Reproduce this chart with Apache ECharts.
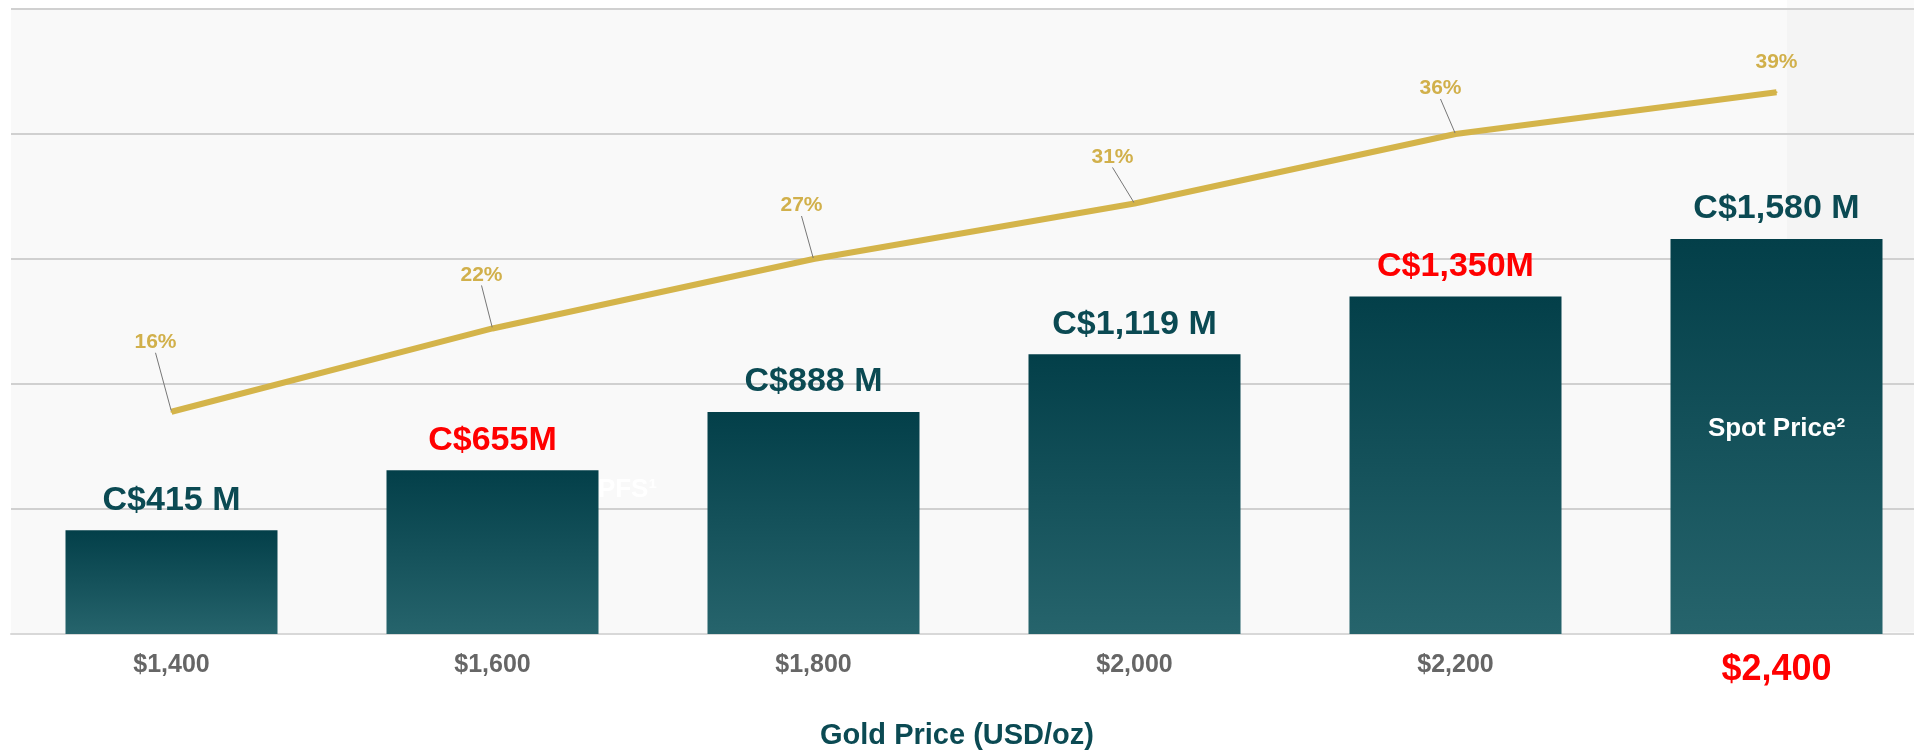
<!DOCTYPE html>
<html>
<head>
<meta charset="utf-8">
<script src="https://cdn.jsdelivr.net/npm/echarts@6/dist/echarts.min.js"></script>
<style>
  html, body { margin: 0; padding: 0; background: #fff; }
  #chart { width: 1914px; height: 751px; }
</style>
</head>
<body>
<div id="chart"></div>
<script>
// gold price scenarios (USD/oz)
const goldPrices = ['$1,400', '$1,600', '$1,800', '$2,000', '$2,200', '$2,400']
// after-tax NPV, C$ M
const npvValues = [415, 655, 888, 1119, 1350, 1580]
const npvLabels = ['C$415 M', 'C$655M', 'C$888 M', 'C$1,119 M', 'C$1,350M', 'C$1,580 M']
// IRR, %
const irrValues = [16, 22, 27, 31, 36, 39]
// notes written on the bars
const barNotes = ['', 'PFS¹', '', '', '', 'Spot Price²']
// which value labels are red
const redLabels = [1, 4]
const spotIndex = 5

const FONT = '"Liberation Sans", Arial, Helvetica, sans-serif'
const TEAL = '#0b4a53'
const GOLD = '#d4b44a'

// label shifts (dx, dy) for the IRR labels, and offsets for the bar notes
const irrLabelShift = [[-16, -54], [-11, -38], [-12, -38], [-22, -31], [-15, -30], [0, -15]]
const noteOffset = [[0, 0], [135, -62], [0, 0], [0, 0], [0, 0], [0, -8]]

const chart = echarts.init(document.getElementById('chart'))

chart.setOption({
  animation: false,
  textStyle: { fontFamily: FONT },
  title: {
    text: 'Gold Price (USD/oz)',
    left: 'center',
    top: 716,
    textStyle: { fontSize: 29, fontWeight: 'bold', color: TEAL, fontFamily: FONT }
  },
  graphic: [{
    // slightly darker strip on the right edge
    type: 'rect', left: 1787, top: 0, silent: true, z: 0,
    shape: { width: 127, height: 632 },
    style: { fill: 'rgba(0,0,0,0.018)' }
  }],
  grid: {
    left: 11, top: 9, width: 1926, height: 625,
    outerBoundsMode: 'none',
    containLabel: false,
    show: true, backgroundColor: '#f9f9f9', borderWidth: 0
  },
  xAxis: {
    type: 'category',
    data: goldPrices,
    axisLine: { lineStyle: { color: '#d8d8d8', width: 2 } },
    axisTick: { show: false },
    axisLabel: {
      margin: 19,
      formatter: (v, i) => i === spotIndex ? '{hi|' + v + '}' : '{n|' + v + '}',
      rich: {
        n: { fontSize: 25, fontWeight: 'bold', color: '#666', fontFamily: FONT, lineHeight: 25 },
        hi: { fontSize: 36, fontWeight: 'bold', color: '#ff0000', fontFamily: FONT, lineHeight: 34 }
      }
    }
  },
  yAxis: [
    {
      type: 'value', min: 0, max: 2500, interval: 500,
      axisLabel: { show: false },
      axisLine: { show: false },
      axisTick: { show: false },
      splitLine: { lineStyle: { color: '#d0d0d0', width: 2 } }
    },
    { type: 'value', min: 0, max: 45, show: false, splitLine: { show: false } }
  ],
  series: [
    {
      name: 'NPV',
      type: 'bar',
      barWidth: 212,
      data: npvValues.map((v, i) => ({
        value: v,
        label: { color: redLabels.includes(i) ? '#ff0000' : TEAL }
      })),
      itemStyle: {
        color: new echarts.graphic.LinearGradient(0, 0, 0, 1, [
          { offset: 0, color: '#033f49' },
          { offset: 1, color: '#26646c' }
        ])
      },
      label: {
        show: true, position: 'top', distance: 13,
        fontSize: 34, fontWeight: 'bold', fontFamily: FONT,
        formatter: p => npvLabels[p.dataIndex]
      }
    },
    {
      // transparent copy of the bars, only carries the white notes
      name: 'notes',
      type: 'bar',
      barWidth: 212,
      barGap: '-100%',
      silent: true,
      data: npvValues.map((v, i) => ({ value: v, label: { offset: noteOffset[i] } })),
      itemStyle: { color: 'rgba(0,0,0,0)' },
      label: {
        show: true, position: 'inside',
        color: '#ffffff', fontSize: 26, fontWeight: 'bold', fontFamily: FONT,
        formatter: p => barNotes[p.dataIndex]
      }
    },
    {
      name: 'IRR',
      type: 'line',
      yAxisIndex: 1,
      z: 5,
      symbol: 'circle',
      symbolSize: 2,
      showSymbol: true,
      data: irrValues.map((v, i) => i === spotIndex ? { value: v, labelLine: { show: false } } : v),
      lineStyle: { color: GOLD, width: 6 },
      itemStyle: { color: GOLD },
      label: {
        show: true, position: 'top', distance: 4,
        color: '#d1b04b', fontSize: 21, fontWeight: 'bold', fontFamily: FONT,
        formatter: '{c}%'
      },
      labelLine: { show: true, lineStyle: { color: '#777', width: 1 } },
      labelLayout: p => ({ dx: irrLabelShift[p.dataIndex][0], dy: irrLabelShift[p.dataIndex][1] })
    }
  ]
})
</script>
</body>
</html>
